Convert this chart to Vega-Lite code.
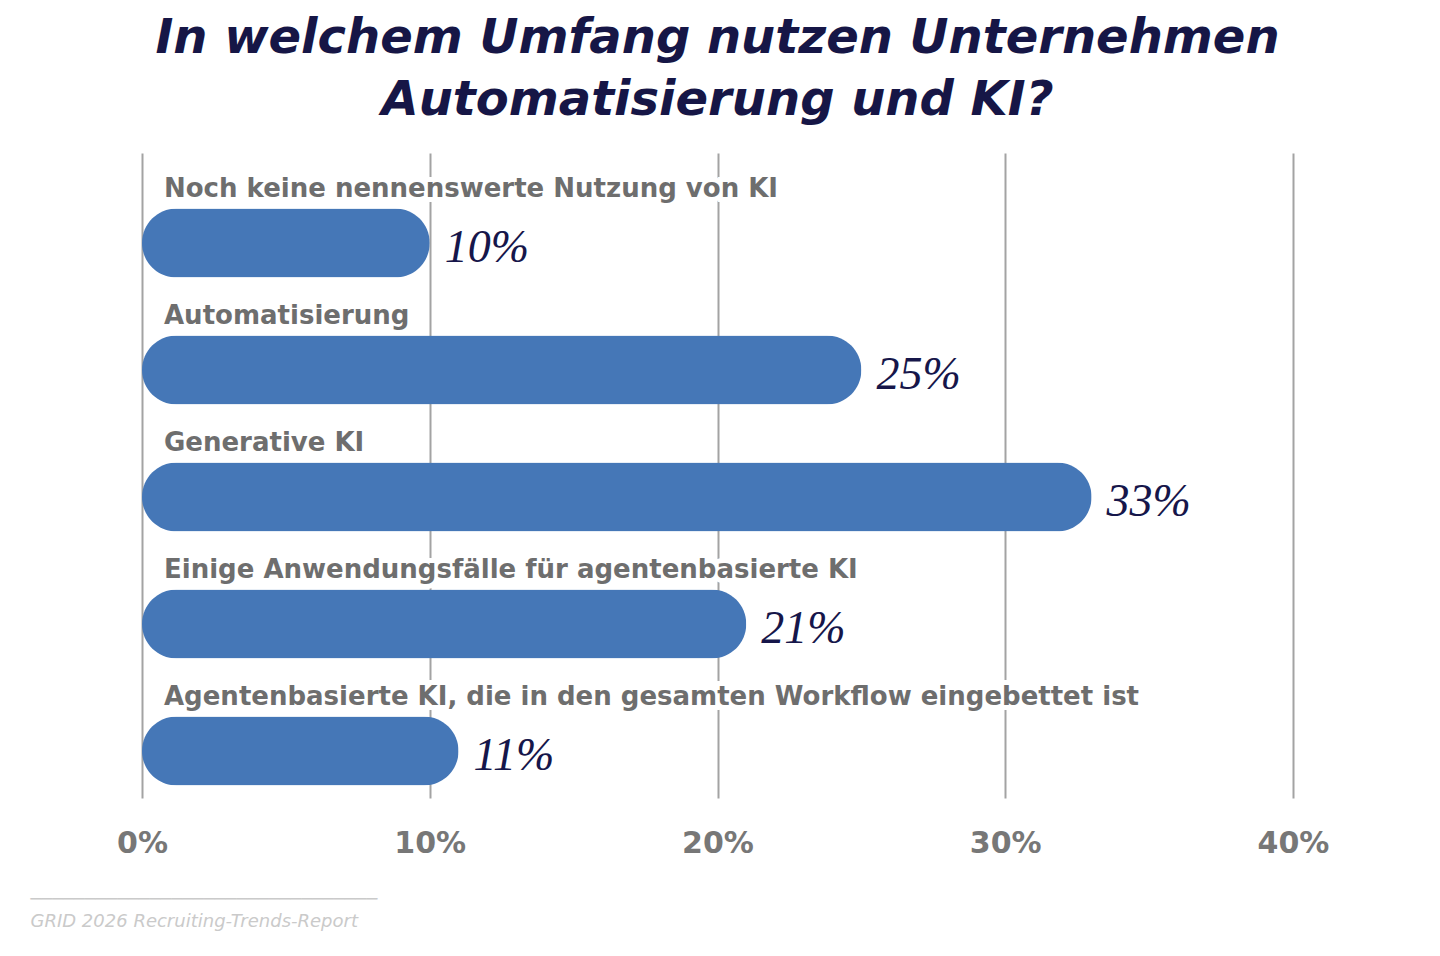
{
  "$schema": "https://vega.github.io/schema/vega-lite/v6.json",
  "autosize": {"type": "none"},
  "width": 1151,
  "height": 645,
  "padding": {"left": 142, "top": 153, "right": 147, "bottom": 158},
  "background": "white",
  "config": {"view": {"stroke": null}},
  "title": {
    "text": ["In welchem Umfang nutzen Unternehmen", "Automatisierung und KI?"],
    "font": "DejaVu Sans",
    "fontSize": 48,
    "fontWeight": "bold",
    "fontStyle": "italic",
    "color": "#161646",
    "lineHeight": 62,
    "anchor": "middle",
    "offset": 28
  },
  "data": {
    "values": [
      {"cat": "Noch keine nennenswerte Nutzung von KI", "value": 0.10},
      {"cat": "Automatisierung", "value": 0.25},
      {"cat": "Generative KI", "value": 0.33},
      {"cat": "Einige Anwendungsfälle für agentenbasierte KI", "value": 0.21},
      {"cat": "Agentenbasierte KI, die in den gesamten Workflow eingebettet ist", "value": 0.11}
    ]
  },
  "encoding": {
    "y": {
      "field": "cat",
      "type": "nominal",
      "sort": null,
      "axis": null,
      "scale": {"paddingInner": 0, "paddingOuter": 0.04}
    }
  },
  "layer": [
    {
      "mark": {"type": "bar", "height": 69, "yOffset": 21.5, "cornerRadius": 34.5, "color": "#4577b7"},
      "encoding": {
        "x": {
          "field": "value",
          "type": "quantitative",
          "scale": {"domain": [0, 0.4], "nice": false},
          "axis": {
            "values": [0, 0.1, 0.2, 0.3, 0.4],
            "format": ".0%",
            "domain": false,
            "ticks": false,
            "grid": true,
            "gridColor": "#a3a3a3",
            "gridWidth": 2,
            "labelFlush": false,
            "labelOverlap": false,
            "labelFont": "DejaVu Sans",
            "labelFontWeight": "bold",
            "labelFontSize": 30,
            "labelColor": "#777777",
            "labelPadding": 45,
            "labelBaseline": "middle",
            "title": ["────────────────────────────────", "GRID 2026 Recruiting-Trends-Report"],
            "titleFont": "DejaVu Sans",
            "titleFontSize": 18,
            "titleFontWeight": "normal",
            "titleFontStyle": "italic",
            "titleColor": "#cacaca",
            "titleLineHeight": 22,
            "titleAnchor": "start",
            "titleAlign": "left",
            "titleBaseline": "alphabetic",
            "titleX": -112,
            "titleY": 106
          }
        }
      }
    },
    {
      "mark": {"type": "text", "align": "left", "baseline": "middle", "dx": 22, "dy": -32.5, "font": "DejaVu Sans", "fontWeight": "bold", "fontSize": 26, "fill": "white", "stroke": "white", "strokeWidth": 10},
      "encoding": {"x": {"datum": 0}, "text": {"field": "cat"}}
    },
    {
      "mark": {"type": "text", "align": "left", "baseline": "middle", "dx": 22, "dy": -32.5, "font": "DejaVu Sans", "fontWeight": "bold", "fontSize": 26, "color": "#6e6e6e"},
      "encoding": {"x": {"datum": 0}, "text": {"field": "cat"}}
    },
    {
      "mark": {"type": "text", "align": "left", "baseline": "alphabetic", "dx": 15, "dy": 40.5, "font": "Liberation Serif", "fontStyle": "italic", "fontSize": 46, "color": "#16164a"},
      "encoding": {
        "x": {"field": "value", "type": "quantitative"},
        "text": {"field": "value", "type": "quantitative", "format": ".0%"}
      }
    }
  ]
}
